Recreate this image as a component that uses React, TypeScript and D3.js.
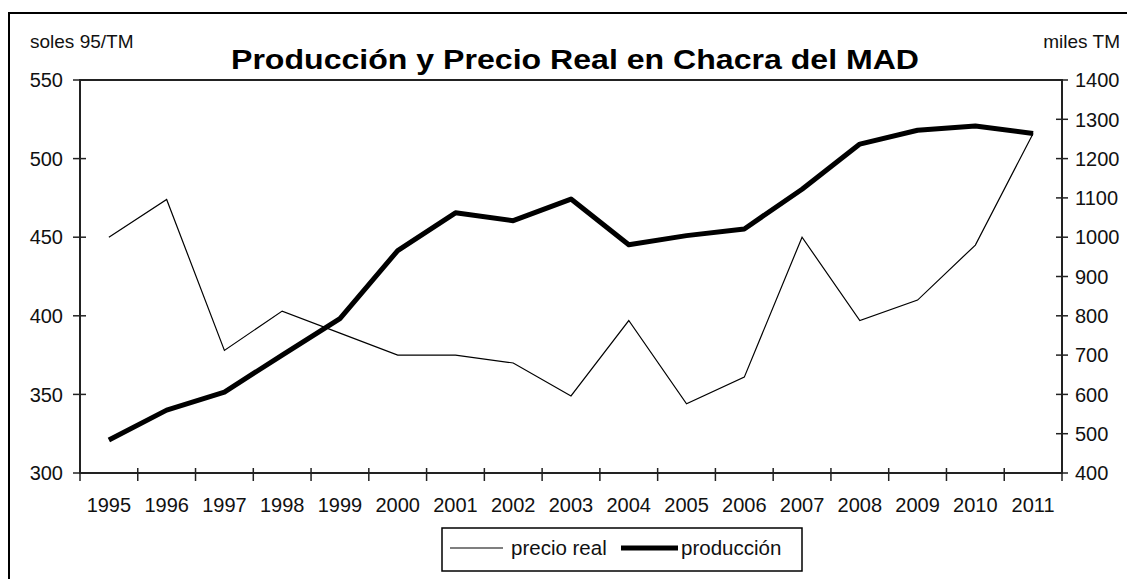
import React from "react";
import * as d3 from "d3";

const years = ["1995","1996","1997","1998","1999","2000","2001","2002","2003","2004","2005","2006","2007","2008","2009","2010","2011"];
const precioReal = [450, 474, 378, 403, 389, 375, 375, 370, 349, 397, 344, 361, 450, 397, 410, 445, 516];
const produccion = [484, 560, 606, 700, 793, 966, 1062, 1042, 1097, 981, 1004, 1021, 1122, 1237, 1272, 1283, 1264];
const leftTicks = [300, 350, 400, 450, 500, 550];
const rightTicks = [400, 500, 600, 700, 800, 900, 1000, 1100, 1200, 1300, 1400];

const W = 1127, H = 579;
const L = 80, R = 1062, T = 80, B = 473;
const FONT = "Arial, 'Liberation Sans', sans-serif";

export default function App() {
  const x = d3.scaleBand<string>().domain(years).range([L, R]);
  const yL = d3.scaleLinear().domain([300, 550]).range([B, T]);
  const yR = d3.scaleLinear().domain([400, 1400]).range([B, T]);
  const cx = (y: string) => (x(y) as number) + x.bandwidth() / 2;

  const linePrice = d3.line<number>().x((_, i) => cx(years[i])).y((d) => yL(d));
  const lineProd = d3.line<number>().x((_, i) => cx(years[i])).y((d) => yR(d));

  const axisColor = "#222";
  const bounds = [...years.map((y) => x(y) as number), R];

  return (
    <svg width={W} height={H} style={{ position: "absolute", left: 0, top: 0, background: "#fff" }} fontFamily={FONT}>
      <rect x={9} y={13} width={W + 10} height={H + 10} fill="#fff" stroke="#000" strokeWidth={2} />
      {/* plot box */}
      <rect x={L} y={T} width={R - L} height={B - T} fill="none" stroke={axisColor} strokeWidth={2} />
      {/* left ticks */}
      {leftTicks.map((t) => (
        <g key={"l" + t}>
          <line x1={L - 7} x2={L + 6} y1={yL(t)} y2={yL(t)} stroke={axisColor} strokeWidth={1.5} />
          <text x={63} y={yL(t)} dy="0.36em" textAnchor="end" fontSize={20} fill="#111">{t}</text>
        </g>
      ))}
      {/* right ticks */}
      {rightTicks.map((t) => (
        <g key={"r" + t}>
          <line x1={R - 6} x2={R + 6} y1={yR(t)} y2={yR(t)} stroke={axisColor} strokeWidth={1.5} />
          <text x={1075} y={yR(t)} dy="0.36em" textAnchor="start" fontSize={20} fill="#111">{t}</text>
        </g>
      ))}
      {/* x ticks */}
      {bounds.map((b, i) => (
        <line key={"x" + i} x1={b} x2={b} y1={B - 5} y2={B + 8} stroke={axisColor} strokeWidth={1.5} />
      ))}
      {years.map((y) => (
        <text key={"t" + y} x={cx(y)} y={512} textAnchor="middle" fontSize={20} fill="#111">{y}</text>
      ))}
      {/* lines */}
      <path d={linePrice(precioReal) as string} fill="none" stroke="#000" strokeWidth={1.2} />
      <path d={lineProd(produccion) as string} fill="none" stroke="#000" strokeWidth={5} strokeLinejoin="round" />
      {/* title and axis titles */}
      <text x={231} y={69} fontSize={27} fontWeight="bold" textLength={688} lengthAdjust="spacingAndGlyphs" fill="#000">Producción y Precio Real en Chacra del MAD</text>
      <text x={30} y={48} fontSize={19} fill="#111">soles 95/TM</text>
      <text x={1120} y={48} fontSize={19} textAnchor="end" fill="#111">miles TM</text>
      {/* legend */}
      <rect x={442} y={528} width={360} height={43} fill="#fff" stroke="#000" strokeWidth={1.5} />
      <line x1={450} x2={503} y1={548} y2={548} stroke="#000" strokeWidth={1.2} />
      <text x={511} y={555} fontSize={20.5} fill="#111">precio real</text>
      <line x1={621} x2={678} y1={548} y2={548} stroke="#000" strokeWidth={5} />
      <text x={681} y={555} fontSize={20.5} fill="#111">producción</text>
    </svg>
  );
}
